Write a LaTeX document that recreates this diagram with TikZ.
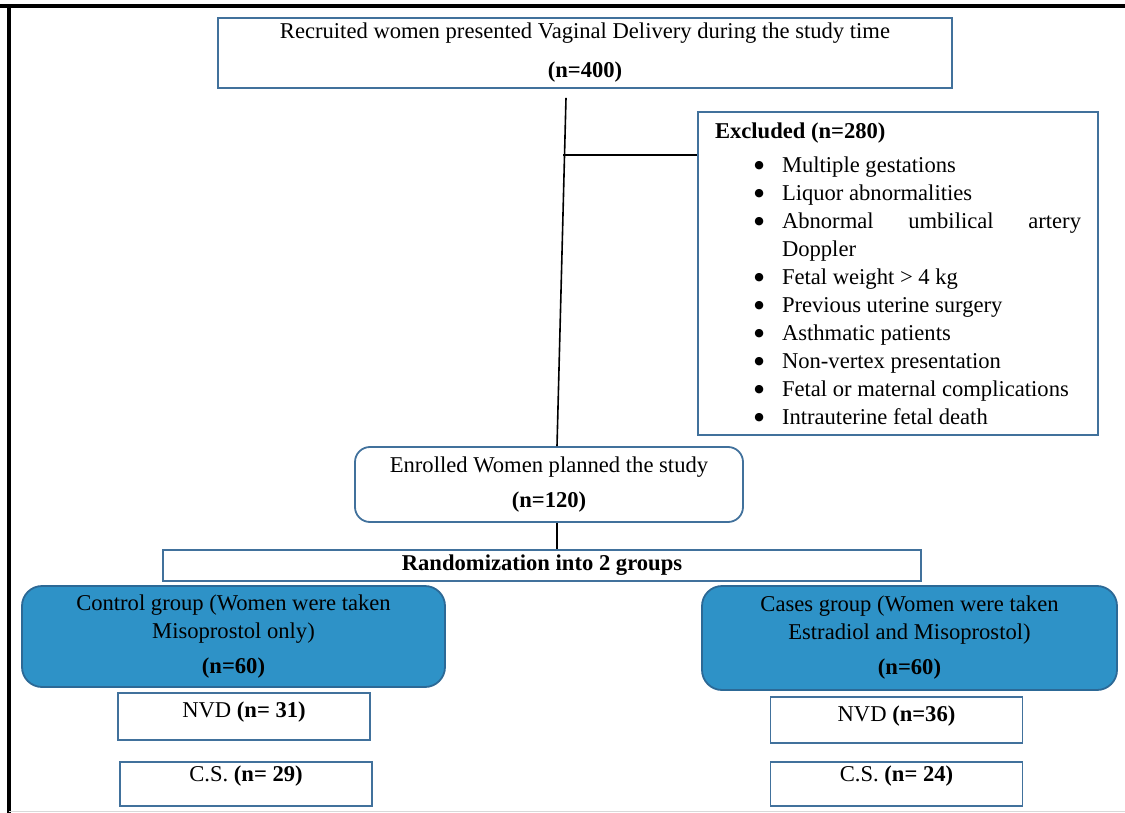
\documentclass[tikz,border=0pt]{standalone}
\usepackage{fontspec}
\setmainfont{Liberation Serif}
\newfontfamily\bulletfont{DejaVu Sans}

\definecolor{boxline}{RGB}{65,113,156}
\definecolor{groupfill}{RGB}{46,146,199}
\definecolor{groupline}{RGB}{44,105,150}

% one bullet line of the exclusion list
\newcommand{\exitem}[1]{\par\leftskip=33.5pt\noindent\llap{\raisebox{1.8pt}{\bulletfont\fontsize{5.5}{6}\selectfont ●}\hspace{9pt}}#1}

\begin{document}
\begin{tikzpicture}[x=0.5pt,y=-0.5pt,
    font=\fontsize{11.3}{14}\selectfont,
    flowbox/.style={draw=boxline,line width=0.9pt,inner sep=0pt,align=center},
    roundbox/.style={flowbox,rounded corners=7.5pt},
    groupbox/.style={draw=groupline,fill=groupfill,line width=0.9pt,rounded corners=10pt,inner sep=0pt,align=center},
    outbox/.style={flowbox,minimum width=126pt,text height=8pt}]
	\useasboundingbox (0,0) rectangle (1125,813);
	% frame
	\draw[line width=1.6pt] (0,6) -- (1125,6);
	\draw[line width=1.6pt] (9,6) -- (9,813);
	\draw[black!15,line width=0.5pt] (9,811) -- (1125,811);

	\node[flowbox,minimum width=367pt,minimum height=35pt] (recruit) at (585,53)
		{Recruited women presented Vaginal Delivery during the study time\\[5.5pt]\textbf{(n=400)}};
	\node[flowbox,minimum width=200pt,minimum height=161.5pt,inner xsep=8.5pt,text width=183pt,align=justify] (excl) at (898,273.5)
		{\parindent=0pt\textbf{Excluded (n=280)}\par\vspace{3pt}
		\exitem{Multiple gestations}
		\exitem{Liquor abnormalities}
		\exitem{Abnormal umbilical artery Doppler}
		\exitem{Fetal weight > 4 kg}
		\exitem{Previous uterine surgery}
		\exitem{Asthmatic patients}
		\exitem{Non-vertex presentation}
		\exitem{Fetal or maternal complications}
		\exitem{Intrauterine fetal death}\par};
	\node[roundbox,minimum width=194pt,minimum height=37.5pt] (enrol) at (549,484.5)
		{Enrolled Women planned the study\\[3.5pt]\textbf{(n=120)}};
	\node[flowbox,minimum width=379pt,minimum height=15.5pt] (rand) at (542,565.5)
		{\textbf{Randomization into 2 groups}};

	\node[groupbox,minimum width=211.5pt,minimum height=50.5pt] (ctrl) at (233.5,636.5)
		{Control group (Women were taken\\Misoprostol only)\\[3.5pt]\textbf{(n=60)}};
	\node[groupbox,minimum width=207.5pt,minimum height=52pt] (cases) at (909.5,638)
		{Cases group (Women were taken\\Estradiol and Misoprostol)\\[3.5pt]\textbf{(n=60)}};

	\node[outbox,minimum height=23.5pt,text depth=7pt] (nvdL) at (244,716.5) {NVD \textbf{(n= 31)}};
	\node[outbox,minimum height=22pt,text depth=10.5pt] (csL) at (246,784) {C.S. \textbf{(n= 29)}};
	\node[outbox,minimum height=23pt,text depth=7pt] (nvdR) at (896.5,720) {NVD \textbf{(n=36)}};
	\node[outbox,minimum height=22pt,text depth=10.5pt] (csR) at (896.5,784) {C.S. \textbf{(n= 24)}};

	% connectors
	\draw[line width=0.8pt] ([xshift=-9.5pt,yshift=-4.5pt]recruit.south) -- ([xshift=4pt]enrol.north);
	\coordinate (branch) at (563,155);
	\draw[line width=0.8pt] (branch) -- (branch -| excl.west);
	\draw[line width=0.8pt] ([xshift=4pt]enrol.south) -- ([xshift=4pt]enrol.south |- rand.north);
\end{tikzpicture}
\end{document}
